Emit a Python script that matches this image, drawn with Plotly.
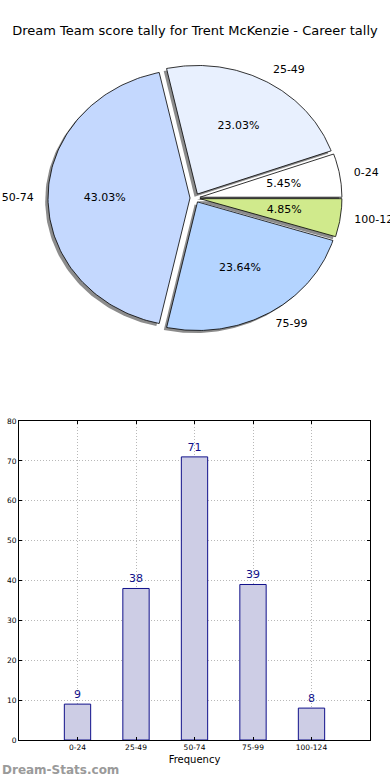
import numpy as np
import plotly.graph_objects as go

# ---- data ----
categories = ["0-24", "25-49", "50-74", "75-99", "100-124"]
counts = [9, 38, 71, 39, 8]
slice_colors = ["#ffffff", "#e8f0fe", "#c4d8fe", "#b4d4ff", "#d0ea8c"]
y_ticks = [0, 10, 20, 30, 40, 50, 60, 70, 80]

title_text = "Dream Team score tally for Trent McKenzie - Career tally"

W, H = 390, 780
FONT = "DejaVu Sans"

fig = go.Figure()

# ---- pie drawn as filled wedges on its own axes (elliptical like the original) ----
vals = np.array(counts, dtype=float)
fracs = vals / vals.sum()
explode = 0.035
shadow_off = (-0.02, -0.02)
starts = np.concatenate([[0.0], np.cumsum(fracs)[:-1]]) * 360.0
ends = np.cumsum(fracs) * 360.0

wedges = []
for i in range(len(categories)):
    t1, t2 = starts[i], ends[i]
    mid = np.deg2rad((t1 + t2) / 2)
    cx, cy = explode * np.cos(mid), explode * np.sin(mid)
    th = np.deg2rad(np.linspace(t1, t2, 120))
    xs = np.concatenate([[cx], cx + np.cos(th), [cx]])
    ys = np.concatenate([[cy], cy + np.sin(th), [cy]])
    wedges.append((xs, ys, mid, cx, cy))

# shadows first
for xs, ys, mid, cx, cy in wedges:
    fig.add_trace(go.Scatter(x=xs + shadow_off[0], y=ys + shadow_off[1], mode="lines",
                             fill="toself", fillcolor="#8c8c8c", line=dict(width=0),
                             xaxis="x2", yaxis="y2", hoverinfo="skip", showlegend=False))
for i, (xs, ys, mid, cx, cy) in enumerate(wedges):
    fig.add_trace(go.Scatter(x=xs, y=ys, mode="lines", fill="toself",
                             fillcolor=slice_colors[i], line=dict(color="#000000", width=0.8),
                             xaxis="x2", yaxis="y2", hoverinfo="skip", showlegend=False))

# percent texts
pct_x = [(0.6 + explode) * np.cos(w[2]) for w in wedges]
pct_y = [(0.6 + explode) * np.sin(w[2]) for w in wedges]
fig.add_trace(go.Scatter(x=pct_x, y=pct_y, mode="text",
                         text=["%.2f%%" % (f * 100) for f in fracs],
                         textposition="middle center",
                         textfont=dict(family=FONT, size=11, color="#000000"),
                         xaxis="x2", yaxis="y2", hoverinfo="skip", showlegend=False))
# category labels
lab_x = [(1.1 + explode) * np.cos(w[2]) for w in wedges]
lab_y = [(1.1 + explode) * np.sin(w[2]) for w in wedges]
fig.add_trace(go.Scatter(x=lab_x, y=lab_y, mode="text", text=categories,
                         textposition=["middle right" if x >= 0 else "middle left" for x in lab_x],
                         textfont=dict(family=FONT, size=11, color="#000000"),
                         xaxis="x2", yaxis="y2", hoverinfo="skip", showlegend=False))

# ---- bar chart ----
xpos = list(range(len(categories)))
fig.add_trace(go.Bar(x=xpos, y=counts, width=0.45,
                     marker=dict(color="#cdcde5", line=dict(color="#10108a", width=1)),
                     text=[str(c) for c in counts], textposition="outside",
                     textfont=dict(family=FONT, size=11, color="#10108a"),
                     cliponaxis=False, hoverinfo="skip", showlegend=False,
                     xaxis="x", yaxis="y"))

# pixel helpers for layout
def px_x(p):
    return p / W

def px_y(p):
    return 1 - p / H

sx, sy = 142.0, 128.6
pcx, pcy = 195.0, 198.0
top_px, bot_px = 40.0, 370.0

fig.update_layout(
    template="none",
    width=W, height=H,
    margin=dict(l=0, r=0, t=0, b=0, pad=0),
    paper_bgcolor="white", plot_bgcolor="white",
    font=dict(family=FONT, color="#000000"),
    title=dict(text=title_text, x=0.5, xanchor="center", y=px_y(30), yanchor="middle",
               font=dict(family=FONT, size=13, color="#000000")),
    xaxis2=dict(domain=[0, 1], range=[-pcx / sx, (W - pcx) / sx], visible=False,
                fixedrange=True, automargin=False),
    yaxis2=dict(domain=[px_y(bot_px), px_y(top_px)], anchor="x2",
                range=[(pcy - bot_px) / sy, (pcy - top_px) / sy], visible=False,
                fixedrange=True, automargin=False),
    xaxis=dict(domain=[px_x(19), px_x(370)], range=[-1, 5], tickvals=xpos, ticktext=categories,
               showgrid=True, gridcolor="#b8b8b8", griddash="1px,2px", gridwidth=1,
               ticks="inside", ticklen=3, tickcolor="#000000", showline=True, linecolor="#000000",
               linewidth=1, mirror="allticks", zeroline=False, automargin=False,
               tickfont=dict(family=FONT, size=7.5, color="#000000"),
               title=dict(text="Frequency", font=dict(family=FONT, size=10, color="#000000"), standoff=4),
               anchor="y", fixedrange=True),
    yaxis=dict(domain=[px_y(740), px_y(421)], range=[0, 80], tickvals=y_ticks,
               showgrid=True, gridcolor="#b8b8b8", griddash="1px,2px", gridwidth=1,
               ticks="inside", ticklen=3, tickcolor="#000000", showline=True, linecolor="#000000",
               linewidth=1, mirror="allticks", zeroline=False, automargin=False,
               tickfont=dict(family=FONT, size=7.5, color="#000000"),
               anchor="x", fixedrange=True),
    annotations=[dict(text="<b>Dream-Stats.com</b>", x=0, y=px_y(770), xref="paper", yref="paper",
                      xanchor="left", yanchor="middle", showarrow=False,
                      font=dict(family=FONT, size=12, color="#9a9a9a"))],
)

fig.write_html("out.html", config={"displayModeBar": False},
               post_script="document.body.style.margin='0px';document.body.style.overflow='hidden';")
